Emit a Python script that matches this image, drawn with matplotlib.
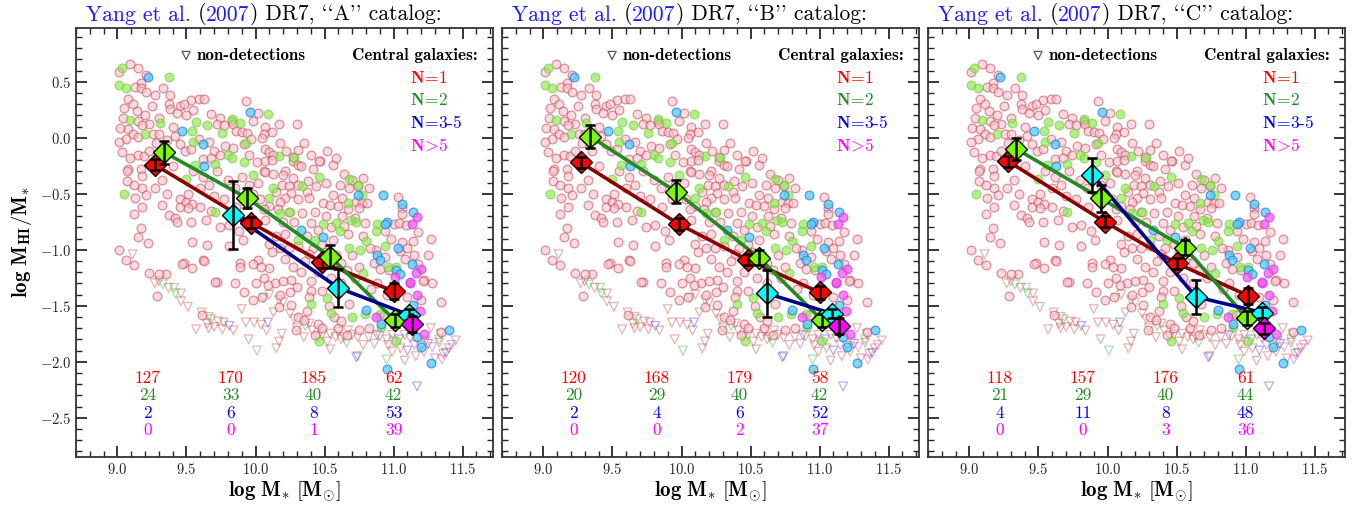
import matplotlib

matplotlib.use("Agg")

import matplotlib.pyplot as plt  # noqa: E402
import matplotlib.transforms as mtransforms  # noqa: E402
import numpy as np  # noqa: E402
from matplotlib.ticker import MultipleLocator  # noqa: E402

plt.rcParams["font.family"] = ["cmr10", "DejaVu Serif"]
plt.rcParams["mathtext.fontset"] = "cm"
plt.rcParams["axes.formatter.use_mathtext"] = True
plt.rcParams["axes.unicode_minus"] = True

# ── Data ──────────────────────────────────────────────────────
catalogs = ["A", "B", "C"]

# binned means per catalog (log M*, log MHI/M*, error)
n1_x = [[9.27, 9.97, 10.48, 11.00], [9.27, 9.98, 10.48, 11.00], [9.28, 9.98, 10.50, 11.02]]
n1_y = [[-0.24, -0.76, -1.11, -1.37], [-0.22, -0.77, -1.09, -1.38], [-0.21, -0.75, -1.12, -1.41]]
n1_err = [[0.05, 0.05, 0.05, 0.07], [0.05, 0.05, 0.05, 0.06], [0.05, 0.05, 0.05, 0.07]]

n2_x = [[9.34, 9.94, 10.54, 11.01], [9.34, 9.96, 10.56, 11.02], [9.34, 9.95, 10.56, 11.01]]
n2_y = [[-0.13, -0.54, -1.06, -1.63], [0.01, -0.48, -1.07, -1.63], [-0.10, -0.54, -0.98, -1.61]]
n2_err = [[0.10, 0.09, 0.10, 0.06], [0.10, 0.10, 0.07, 0.06], [0.10, 0.12, 0.07, 0.06]]

n35_x = [[9.84, 10.60, 11.11], [10.62, 11.09], [9.89, 10.64, 11.12]]
n35_y = [[-0.69, -1.34, -1.58], [-1.39, -1.57], [-0.33, -1.42, -1.56]]
n35_err = [[0.30, 0.17, 0.05], [0.21, 0.04], [0.15, 0.15, 0.05]]

n5_x = [[11.13], [11.14], [11.13]]
n5_y = [[-1.66], [-1.68], [-1.70]]
n5_err = [[0.07], [0.07], [0.05]]

# galaxy counts per bin
count_x = [9.22, 9.82, 10.42, 11.0]
n1_counts = [[127, 170, 185, 62], [120, 168, 179, 58], [118, 157, 176, 61]]
n2_counts = [[24, 33, 40, 42], [20, 29, 40, 42], [21, 29, 40, 44]]
n35_counts = [[2, 6, 8, 53], [2, 4, 6, 52], [4, 11, 8, 48]]
n5_counts = [[0, 0, 1, 39], [0, 0, 2, 37], [0, 0, 3, 36]]

# individual detections (log M*, log MHI/M*)
pink_pts = [
    (9.09, 0.66), (9.15, 0.62), (9.01, 0.59), (9.21, 0.56), (9.17, 0.49), (9.13, 0.45),
    (9.17, 0.44), (9.21, 0.41), (9.27, 0.38), (9.33, 0.44), (9.38, 0.38), (9.08, 0.35),
    (9.11, 0.30), (9.05, 0.27), (9.37, 0.30), (9.38, 0.26), (9.45, 0.28), (9.53, 0.34),
    (9.59, 0.35), (9.63, 0.35), (9.55, 0.25), (9.50, 0.20), (9.43, 0.22), (9.68, 0.21),
    (9.74, 0.18), (9.72, 0.12), (9.77, 0.11), (9.83, 0.15), (9.04, 0.18), (9.14, 0.24),
    (9.20, 0.20), (9.15, 0.15), (9.23, 0.12), (9.18, 0.11), (9.02, 0.09), (9.08, 0.08),
    (9.11, 0.03), (9.06, -0.01), (9.01, -0.04), (9.15, 0.01), (9.26, 0.03), (9.30, 0.03),
    (9.36, -0.02), (9.42, 0.02), (9.45, -0.06), (9.49, -0.12), (9.53, -0.10), (9.59, -0.01),
    (9.66, -0.04), (9.70, -0.12), (9.74, -0.15), (9.78, -0.07), (9.03, -0.13), (9.09, -0.18),
    (9.15, -0.15), (9.19, -0.16), (9.23, -0.12), (9.08, -0.28), (9.17, -0.28), (9.62, -0.19),
    (9.68, -0.18), (9.93, 0.33), (10.17, 0.12), (10.30, 0.12), (9.84, 0.12), (9.86, 0.06),
    (9.90, 0.05), (9.94, 0.04), (9.97, -0.01), (10.07, 0.10), (10.06, 0.03), (10.05, 0.00),
    (9.84, -0.09), (9.92, -0.06), (10.07, -0.10), (10.10, -0.13), (10.13, -0.15), (9.95, -0.15),
    (10.01, -0.22), (10.07, -0.21), (10.12, -0.20), (10.31, -0.11), (10.27, -0.21), (10.31, -0.24),
    (10.47, -0.21), (10.56, -0.24), (10.64, -0.32), (10.21, -0.30), (10.06, -0.30), (9.07, -0.39),
    (9.12, -0.42), (9.18, -0.34), (9.18, -0.45), (9.21, -0.51), (9.13, -0.54), (9.32, -0.38),
    (9.32, -0.60), (9.12, -0.68), (9.18, -0.62), (9.37, -0.69), (9.42, -0.72), (9.43, -0.75),
    (9.45, -0.55), (9.45, -0.62), (9.50, -0.57), (9.54, -0.59), (9.51, -0.63), (9.51, -0.50),
    (9.53, -0.75), (9.64, -0.73), (9.70, -0.52), (9.77, -0.55), (9.74, -0.80), (9.81, -0.78),
    (9.17, -0.81), (9.15, -0.89), (9.22, -0.94), (9.01, -1.00), (9.06, -1.09), (9.12, -1.14),
    (9.54, -0.93), (9.65, -0.96), (9.81, -0.97), (9.48, -1.12), (9.54, -1.16), (9.62, -1.09),
    (9.23, -1.21), (9.35, -1.22), (9.72, -1.29), (9.07, -0.30), (10.07, -0.31), (10.13, -0.32),
    (10.20, -0.33), (10.27, -0.36), (10.31, -0.42), (10.38, -0.39), (10.19, -0.42), (10.24, -0.43),
    (10.15, -0.48), (10.26, -0.49), (10.37, -0.48), (10.44, -0.43), (10.51, -0.40), (10.61, -0.42),
    (10.68, -0.45), (10.56, -0.51), (10.63, -0.54), (10.21, -0.54), (10.18, -0.57), (10.31, -0.55),
    (10.39, -0.54), (10.49, -0.58), (10.54, -0.60), (10.60, -0.61), (10.67, -0.64), (10.10, -0.61),
    (10.06, -0.64), (10.16, -0.64), (10.24, -0.66), (10.34, -0.67), (10.43, -0.66), (10.51, -0.70),
    (10.63, -0.70), (10.72, -0.72), (10.07, -0.73), (10.20, -0.75), (10.28, -0.75), (10.40, -0.76),
    (10.45, -0.82), (10.55, -0.80), (10.64, -0.79), (9.88, -0.83), (9.91, -0.91), (10.15, -0.88),
    (10.21, -0.86), (10.37, -0.88), (10.56, -0.91), (10.67, -0.86), (10.10, -0.95), (10.24, -0.98),
    (10.31, -0.97), (10.42, -0.98), (10.02, -1.09), (9.98, -1.13), (9.89, -1.12), (10.21, -1.08),
    (10.10, -1.16), (10.27, -1.15), (10.39, -1.04), (10.36, -1.10), (10.06, -1.25), (10.14, -1.30),
    (10.26, -1.27), (10.78, -0.36), (10.82, -0.45), (10.73, -0.57), (10.77, -0.58), (10.81, -0.58),
    (10.75, -0.63), (11.03, -0.53), (11.06, -0.63), (11.06, -0.68), (10.79, -0.76), (11.00, -0.77),
    (11.04, -0.76), (11.09, -0.78), (11.18, -0.84), (10.94, -0.83), (11.14, -0.92), (11.27, -0.90),
    (11.06, -0.93), (10.78, -0.88), (11.05, -1.01), (10.87, -1.00), (10.94, -1.06), (11.08, -1.08),
    (10.86, -1.12), (10.90, -1.17), (10.75, -1.15), (10.97, -1.18), (11.18, -1.13), (11.22, -1.27),
    (11.28, -1.30), (10.88, -1.30), (10.46, -0.21), (10.70, -0.38), (10.74, -0.43), (10.27, -0.17),
    (10.33, -0.25), (11.21, -1.28), (11.34, -1.47), (11.34, -1.73), (10.93, -1.58), (9.29, -1.41),
    (9.71, -1.29), (9.61, -1.58), (10.09, -1.31), (10.20, -1.28), (9.98, -1.45), (10.26, -1.49),
    (10.17, -1.51), (10.31, -1.60), (10.37, -1.55), (10.35, -1.63), (10.45, -1.66), (10.48, -1.70),
    (10.29, -1.72), (10.43, -1.76), (10.40, -1.37), (10.39, -1.42), (10.48, -1.37), (10.53, -1.50),
    (10.57, -1.60), (10.68, -1.48), (9.30, -1.22), (9.47, -1.13), (9.63, -1.10), (9.89, -1.15),
    (10.04, -1.15), (9.62, -0.35), (9.66, -0.42), (9.72, -0.30), (9.80, -0.38), (9.85, -0.45),
    (9.90, -0.35), (9.95, -0.42), (9.60, -0.62), (9.68, -0.65), (9.86, -0.62), (9.93, -0.55),
    (9.98, -0.50), (10.02, -0.40), (10.03, -0.55), (10.18, -0.05), (10.22, -0.12), (10.35, -0.05),
    (10.40, -0.15), (10.42, -0.28), (10.52, -0.12), (10.58, -0.18), (9.98, 0.15), (10.02, 0.22),
    (10.12, 0.05), (10.48, -0.95), (10.52, -1.02), (10.58, -1.05), (10.62, -1.12), (10.66, -1.18),
    (10.70, -1.05), (10.45, -1.20), (10.55, -1.25), (10.62, -1.30), (10.72, -1.25), (10.33, -1.20),
    (10.40, -1.28), (10.83, -0.98), (10.98, -0.90), (11.10, -0.98), (11.15, -1.05), (10.84, -1.35),
    (10.95, -1.40), (11.10, -1.42), (11.25, -1.05), (11.20, -1.45), (9.25, 0.28), (9.30, 0.18),
    (9.40, 0.10), (9.48, 0.30), (9.28, -0.05), (9.35, -0.12), (9.40, -0.25), (9.55, -0.30),
    (9.27, -0.45), (9.36, -0.50), (9.60, -0.45), (9.85, -1.30), (9.92, -1.38), (10.00, -1.30),
    (10.05, -1.42), (10.18, -1.40), (10.25, -1.38), (10.30, -1.33), (10.12, -1.02), (10.18, -0.98),
    (10.60, -1.70), (10.66, -1.76), (10.75, -1.72), (10.82, -1.70), (10.62, -1.64),
]
green_pts = [
    (9.03, 0.62), (9.37, 0.54), (9.01, 0.47), (9.06, 0.44), (9.09, 0.16), (9.31, 0.13),
    (9.57, 0.14), (9.54, 0.06), (9.65, 0.11), (9.76, 0.04), (9.20, 0.03), (9.55, -0.04),
    (9.80, -0.15), (9.71, -0.23), (9.56, -0.24), (10.09, 0.21), (9.83, 0.17), (9.89, 0.13),
    (9.93, -0.05), (10.17, -0.16), (10.28, -0.18), (9.92, -0.22), (9.83, -0.18), (9.05, -0.50),
    (9.71, -0.66), (9.50, -0.37), (9.98, -0.33), (10.13, -0.45), (10.34, -0.43), (10.46, -0.35),
    (10.68, -0.37), (10.10, -0.54), (10.18, -0.67), (10.25, -0.66), (10.49, -0.77), (10.58, -0.76),
    (10.69, -0.73), (10.61, -0.83), (10.31, -0.91), (10.43, -0.91), (10.68, -0.98), (10.67, -0.58),
    (10.74, -0.42), (10.77, -0.51), (10.73, -0.75), (10.88, -0.77), (10.87, -0.83), (10.80, -0.92),
    (10.94, -0.97), (10.76, -1.00), (10.96, -1.15), (10.78, -1.21), (11.02, -1.15), (10.79, -1.57),
    (10.91, -1.69), (11.02, -1.81), (10.90, -1.57), (10.40, -1.48), (10.52, -1.43), (10.55, -1.56),
    (10.70, -1.60), (10.46, -1.81),
]
cyan_pts = [
    (9.22, 0.54), (9.47, 0.06), (9.62, -0.06), (9.63, -0.25), (9.96, 0.23), (10.33, -0.82),
    (10.49, -0.89), (10.74, -0.51), (10.92, -0.51), (11.06, -0.59), (11.14, -0.66), (10.95, -0.75),
    (10.94, -0.77), (11.03, -0.98), (10.88, -1.05), (10.90, -1.09), (11.02, -1.18), (11.05, -1.22),
    (11.13, -1.13), (11.14, -1.49), (10.80, -1.54), (10.91, -1.66), (11.40, -1.72), (11.17, -1.78),
    (11.20, -1.87), (11.27, -2.01), (10.95, -2.06),
]
mag_pts = [
    (11.17, -0.71), (11.13, -0.77), (11.20, -1.17), (11.16, -1.21), (11.12, -1.30), (11.01, -1.24),
    (11.12, -1.29), (11.17, -1.40), (10.87, -1.60), (11.19, -1.55), (11.22, -1.75),
]

# non-detections (upper limits)
tri_red = [
    (9.27, -1.30), (9.37, -1.34), (9.46, -1.39), (9.46, -1.46), (9.51, -1.51), (9.61, -1.56),
    (9.66, -1.60), (9.65, -1.66), (9.57, -1.71), (9.66, -1.70), (9.77, -1.65), (9.76, -1.71),
    (9.84, -1.72), (9.11, -1.04), (9.30, -1.28), (9.90, -1.53), (10.10, -1.40), (10.17, -1.45),
    (10.20, -1.47), (10.13, -1.56), (10.25, -1.57), (9.93, -1.65), (9.99, -1.65), (10.04, -1.67),
    (10.19, -1.75), (10.17, -1.82), (9.95, -1.80), (10.15, -1.88), (10.39, -1.66), (10.54, -1.75),
    (10.60, -1.73), (10.67, -1.72), (10.52, -1.82), (10.54, -1.89), (10.74, -1.78), (10.82, -1.78),
    (10.90, -1.77), (10.99, -1.76), (11.08, -1.76), (11.27, -1.70), (11.34, -1.75), (11.45, -1.81),
    (11.33, -1.83), (11.36, -1.93), (11.30, -1.97), (11.22, -1.91), (11.16, -1.95), (11.08, -1.99),
    (10.99, -1.91), (10.74, -1.95), (10.86, -1.84), (10.96, -1.85), (11.05, -1.88), (11.23, -1.82),
    (10.30, -1.70), (10.35, -1.78), (10.45, -1.78), (10.62, -1.80), (10.70, -1.76), (10.78, -1.85),
    (9.70, -1.69), (9.73, -1.64), (10.08, -1.72), (10.28, -1.62), (10.41, -1.72), (10.58, -1.78),
    (10.48, -1.76), (10.64, -1.78), (10.95, -1.80), (11.12, -1.79), (11.40, -1.88),
]
tri_green = [
    (9.33, -1.31), (9.41, -1.34), (9.42, -1.39), (9.68, -1.62), (10.06, -1.43), (10.01, -1.90),
    (10.36, -1.68), (11.20, -1.86), (10.95, -1.98), (10.66, -1.83), (11.33, -1.80),
]
tri_blue = [
    (9.81, -1.68), (10.09, -1.65), (10.73, -1.96), (10.88, -1.76), (11.04, -1.80), (11.17, -2.22),
    (11.25, -1.84), (11.38, -1.92), (11.10, -1.90),
]
tri_mag = [(11.15, -1.85), (11.28, -1.87), (11.00, -1.82), (11.35, -1.98), (11.42, -1.85)]

# ── Style ─────────────────────────────────────────────────────
COL_TXT = {"n1": "red", "n2": "#228b22", "n35": "blue", "n5": "magenta"}
LINE_COL = {"n1": "#8b0000", "n2": "#228b22", "n35": "#00008b"}
FACE_COL = {"n1": "red", "n2": "#7cfc00", "n35": "cyan", "n5": "magenta"}


def pts(lst):
    a = np.array(lst)
    return a[:, 0], a[:, 1]


def draw_title(ax, pieces, x=0.024, y=1.008, size=15.5):
    """Draw multi-coloured title text pieces one after another."""
    fig = ax.figure
    renderer = fig.canvas.get_renderer()
    trans = ax.transAxes
    for s, c in pieces:
        t = ax.text(x, y, s, color=c, fontsize=size, transform=trans, va="bottom")
        w = t.get_window_extent(renderer).width
        trans = mtransforms.offset_copy(t.get_transform(), fig=fig, x=w, y=0, units="dots")


def draw_panel(ax, i):
    # scatter of individual galaxies
    for tri, ec in [
        (tri_red, (0.8, 0.35, 0.35, 0.45)),
        (tri_green, (0.3, 0.7, 0.3, 0.45)),
        (tri_blue, (0.3, 0.3, 0.85, 0.45)),
        (tri_mag, (0.8, 0.35, 0.8, 0.45)),
    ]:
        x, y = pts(tri)
        ax.scatter(x, y, s=40, marker="v", facecolors="none", edgecolors=[ec], linewidths=0.9, zorder=1)

    x, y = pts(pink_pts)
    ax.scatter(x, y, s=40, facecolors=[(1.0, 0.75, 0.8, 0.6)], edgecolors=[(0.7, 0.22, 0.28, 0.5)],
               linewidths=0.9, zorder=2)
    x, y = pts(green_pts)
    ax.scatter(x, y, s=40, facecolors=[(0.55, 0.9, 0.3, 0.65)], edgecolors=[(0.45, 0.8, 0.25, 0.6)],
               linewidths=0.9, zorder=2)
    x, y = pts(cyan_pts)
    ax.scatter(x, y, s=40, facecolors=[(0.3, 0.8, 0.97, 0.75)], edgecolors=[(0.2, 0.45, 0.85, 0.7)],
               linewidths=0.9, zorder=2)
    x, y = pts(mag_pts)
    ax.scatter(x, y, s=40, facecolors=[(0.95, 0.35, 0.95, 0.75)], edgecolors=[(0.85, 0.2, 0.85, 0.7)],
               linewidths=0.9, zorder=2)

    # binned means
    groups = [
        ("n1", n1_x, n1_y, n1_err),
        ("n2", n2_x, n2_y, n2_err),
        ("n35", n35_x, n35_y, n35_err),
        ("n5", n5_x, n5_y, n5_err),
    ]
    for k, (key, gx, gy, ge) in enumerate(groups):
        if key in LINE_COL:
            ax.plot(gx[i], gy[i], "-", color=LINE_COL[key], lw=2.6, zorder=4 + k * 0.1)
        ax.plot(gx[i], gy[i], "D", ms=11, mfc=FACE_COL[key], mec="black", mew=1.0, zorder=5 + k * 0.1)
        ax.errorbar(gx[i], gy[i], yerr=ge[i], fmt="none", ecolor="black", elinewidth=1.8,
                    capsize=3.5, capthick=1.8, zorder=5.05 + k * 0.1)

    # counts
    for row, (counts, key) in enumerate(
        [(n1_counts, "n1"), (n2_counts, "n2"), (n35_counts, "n35"), (n5_counts, "n5")]
    ):
        for cx, c in zip(count_x, counts[i]):
            ax.text(cx, -2.15 - 0.153 * row, str(c), color=COL_TXT[key], fontsize=12.5,
                    ha="center", va="center")

    # legend-like annotations
    ax.scatter([0.264], [0.936], s=34, marker="v", facecolors="none", edgecolors="0.35",
               linewidths=0.9, transform=ax.transAxes, zorder=6)
    ax.text(0.29, 0.936, "non-detections", transform=ax.transAxes, fontsize=12.3,
            family="cmb10", va="center", ha="left")
    ax.text(0.963, 0.936, "Central galaxies:", transform=ax.transAxes, fontsize=12.3,
            family="cmb10", va="center", ha="right")
    for j, (lab, key) in enumerate(
        [(r"$\mathbf{N\!=\!1}$", "n1"), (r"$\mathbf{N\!=\!2}$", "n2"),
         (r"$\mathbf{N\!=\!3\text{-}5}$", "n35"), (r"$\mathbf{N\!>\!5}$", "n5")]
    ):
        ax.text(0.80, 0.884 - 0.052 * j, lab, transform=ax.transAxes, fontsize=12.5,
                color=COL_TXT[key], va="center", ha="left")

    # axes
    ax.set_xlim(8.7, 11.72)
    ax.set_ylim(-2.85, 0.98)
    ax.xaxis.set_major_locator(MultipleLocator(0.5))
    ax.xaxis.set_minor_locator(MultipleLocator(0.1))
    ax.yaxis.set_major_locator(MultipleLocator(0.5))
    ax.yaxis.set_minor_locator(MultipleLocator(0.1))
    ax.tick_params(which="both", direction="in", top=True, right=True, labelsize=10.5, colors="0.15")
    ax.tick_params(which="major", length=8, width=1.3)
    ax.tick_params(which="minor", length=4, width=1.0)
    for sp in ax.spines.values():
        sp.set_linewidth(1.3)
        sp.set_color("0.2")
    ax.set_xlabel(r"$\mathbf{log\ M_{*}\ [M_{\odot}]}$", fontsize=15, labelpad=2)
    if i == 0:
        ax.set_ylabel(r"$\mathbf{log\ M_{HI}/M_{*}}$", fontsize=15, labelpad=4)
    else:
        ax.tick_params(labelleft=False)

    draw_title(ax, [("Yang et al.", "#1a1aff"), (" (", "black"), ("2007", "#1a1aff"),
                    (") DR7, ``" + catalogs[i] + "'' catalog:", "black")])


fig = plt.figure(figsize=(13.64, 5.09), dpi=100)
lefts = [76 / 1364, 502 / 1364, 928 / 1364]
for i, left in enumerate(lefts):
    ax = fig.add_axes([left, 52 / 509, 417 / 1364, 429 / 509])
    draw_panel(ax, i)

fig.savefig("out.png", dpi=100)
plt.close(fig)
